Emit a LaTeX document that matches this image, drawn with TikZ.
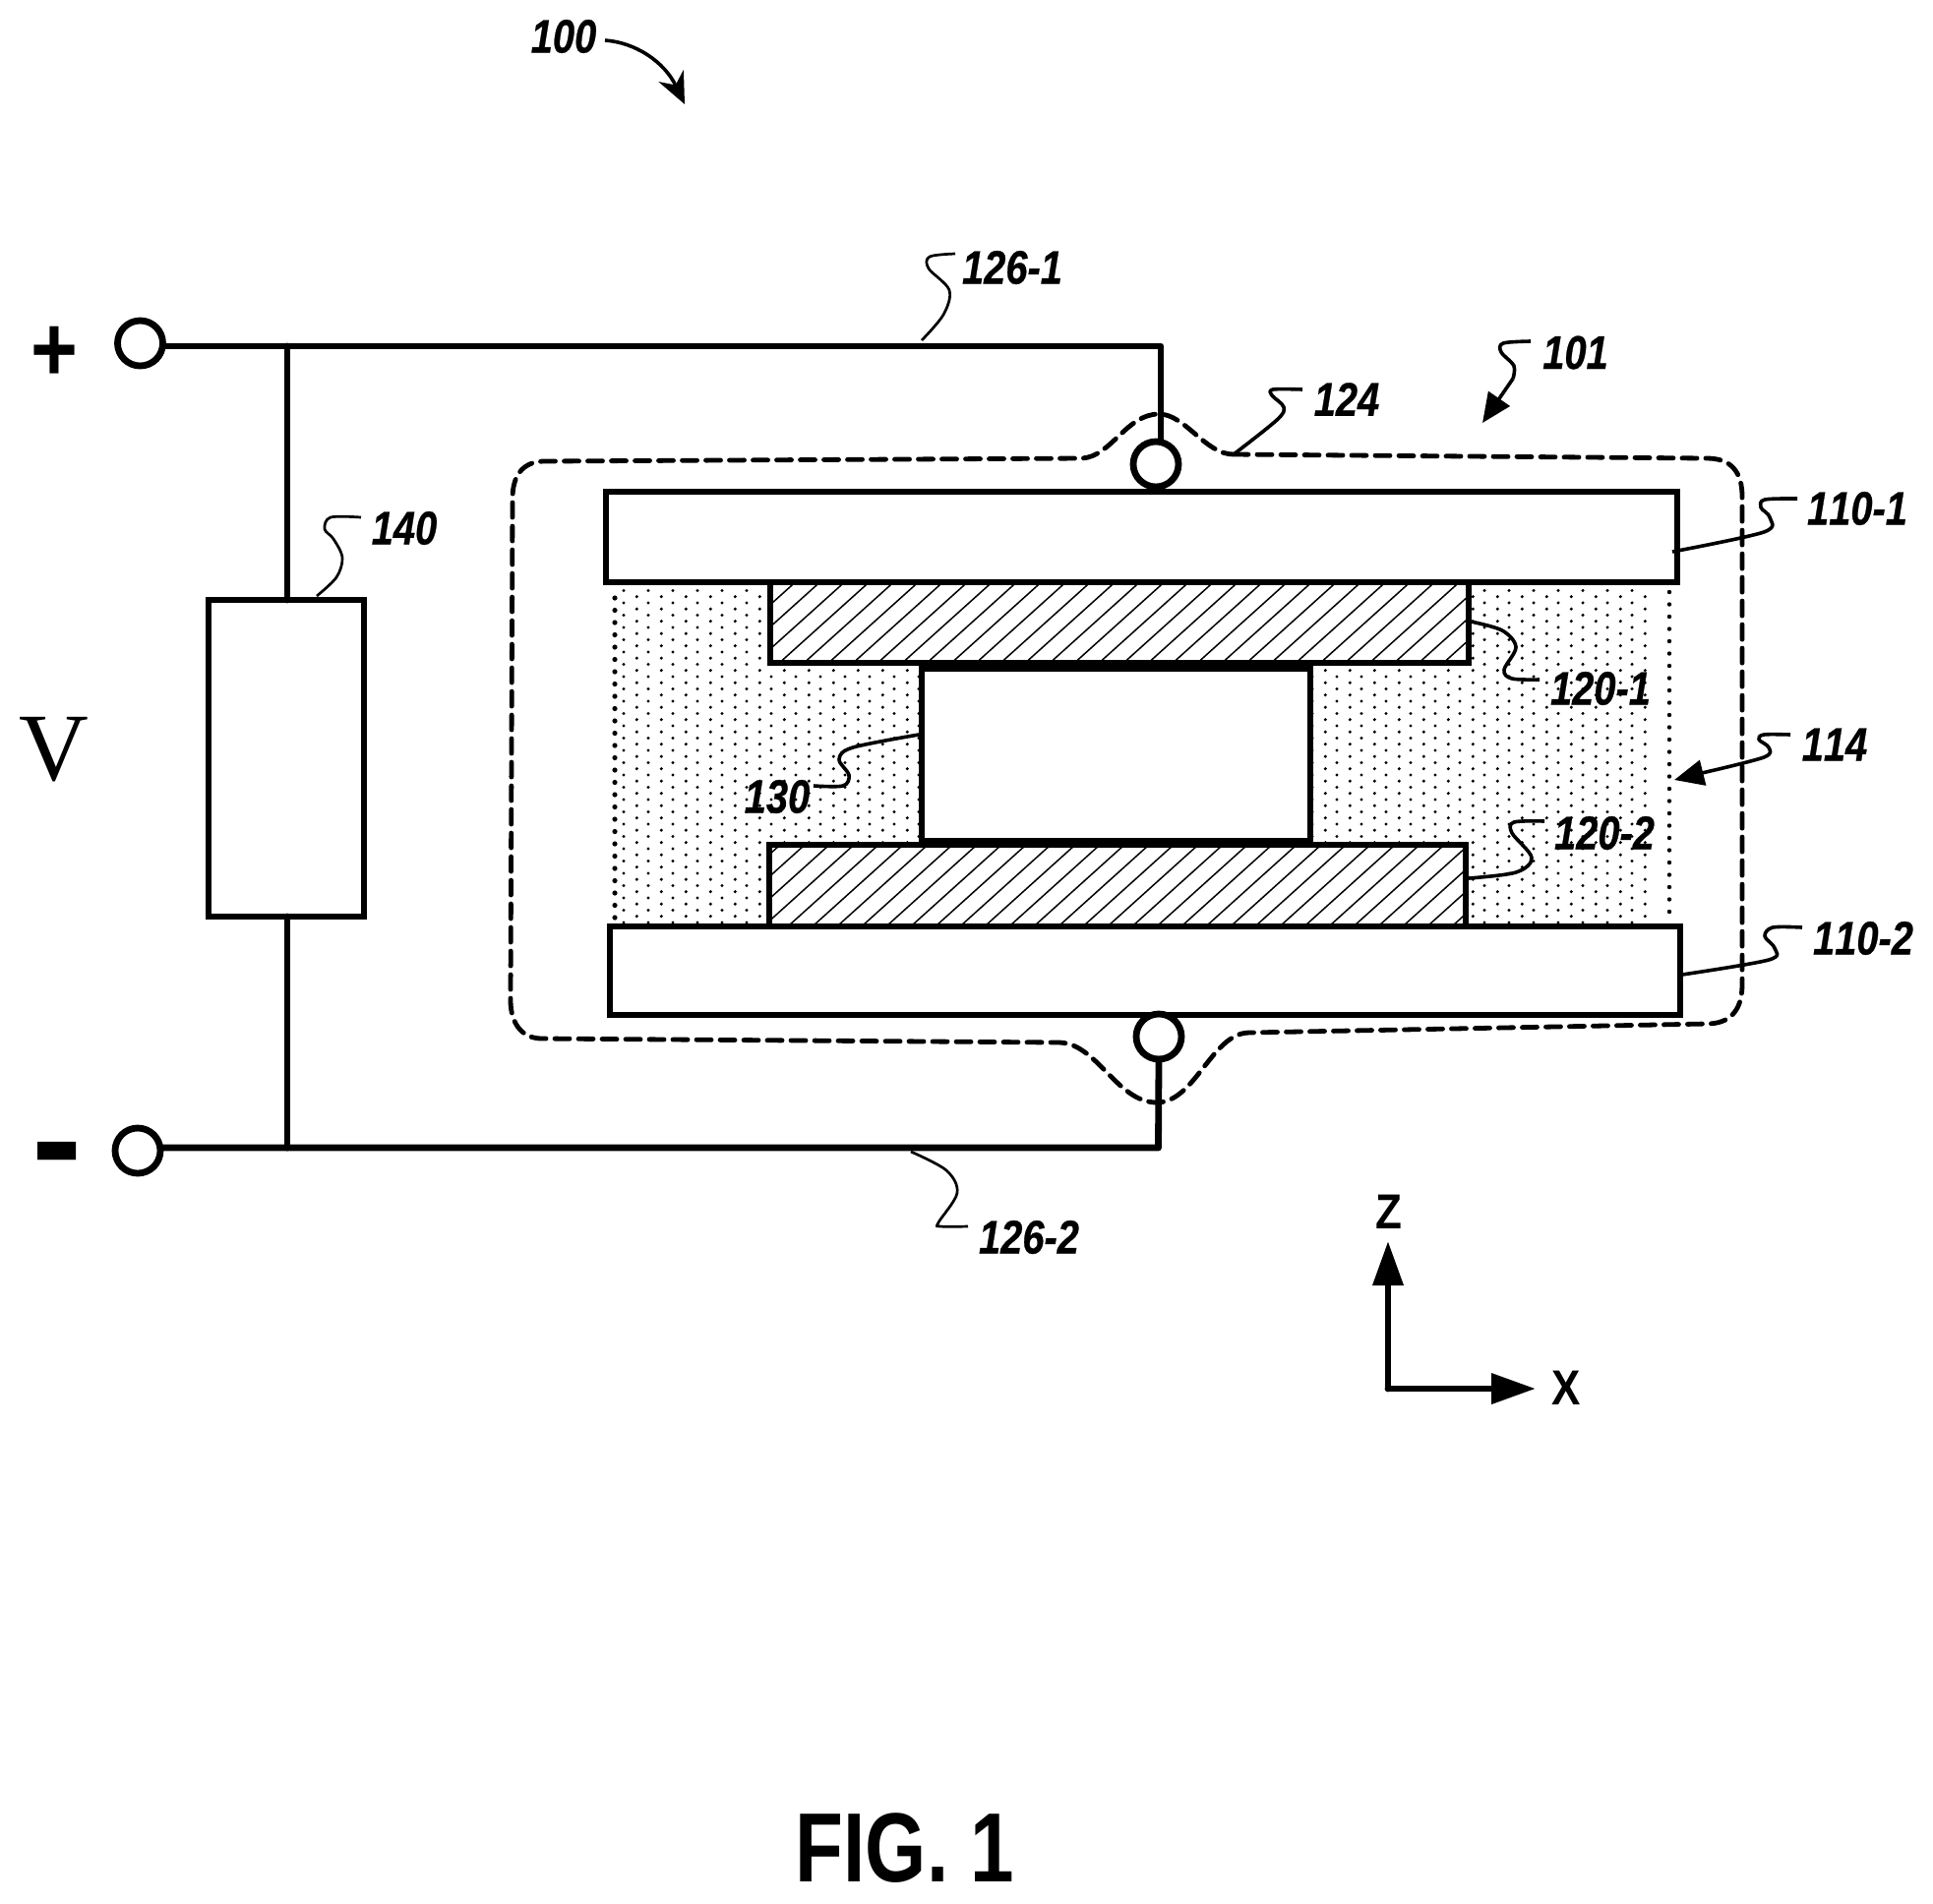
\documentclass[tikz,border=0pt]{standalone}
\usepackage{fontspec}
\setmainfont[RawFeature={-liga;-clig;-dlig}]{Liberation Sans}
\newfontfamily\vserif{Liberation Serif}
\usetikzlibrary{arrows.meta}
\newcommand{\lb}[1]{\scalebox{.83}[1]{\fontsize{24pt}{28pt}\selectfont\bfseries\itshape\addfontfeatures{FakeBold=0.6} #1}}
\newcommand{\axl}[1]{\scalebox{.88}[1]{\fontsize{25pt}{30pt}\selectfont\bfseries #1}}
\tikzset{
  wire/.style={line width=3.4pt,line cap=round,line join=round},
  lead/.style={line width=1.8pt,line join=round},
  thinlead/.style={line width=1.35pt,line join=round},
  box/.style={draw,line width=3.4pt,fill=white,inner sep=0pt,outer sep=0pt,rectangle},
  term/.style={draw,line width=3.4pt,fill=white,circle,inner sep=0pt,outer sep=0pt,minimum size=23pt},
  lbl/.style={inner sep=0pt,outer sep=0pt},
  hat/.style={line width=.75pt},
  bigtip/.style={-{Triangle[length=22.5pt,width=15pt]}},
  dashline/.style={line width=2.4pt,dash pattern=on 7.5pt off 4.5pt,line cap=round},
}
\begin{document}
\begin{tikzpicture}[x=0.5pt,y=-0.5pt]
\useasboundingbox (0,0) rectangle (1965,1935);
\fill[white] (0,0) rectangle (1965,1935);
% stipple
\foreach \i in {-1,...,53}{
  \pgfmathsetmacro\yy{606.7+6.25*\i}
  \pgfmathsetmacro\xo{ifthenelse(mod(\i+2,2)==0,647.3,634)}
  \foreach \k in {0,...,41}{\fill (\xo+25*\k,\yy) circle[radius=0.85pt];}
}
\foreach \i in {0,...,26}{
  \fill (625,608+12.5*\i) circle[radius=1.3pt];
  \fill (1697,602+12.5*\i) circle[radius=1.1pt];
}
% device
\node[box,minimum width=197.5pt,minimum height=87.5pt] (core) at (1134.5,767.5) {};
\node[box,minimum width=355pt,minimum height=41pt] (elA) at (1138,633) {};
\node[box,minimum width=354pt,minimum height=41.5pt] (elB) at (1136,900.5) {};
\begin{scope}
  \clip (elA.south west) rectangle (elA.north east);
  \foreach \k in {-5,...,30}{\draw[hat] (885.6+25*\k,590) -- (785.6+25*\k,680);}
\end{scope}
\begin{scope}
  \clip (elB.south west) rectangle (elB.north east);
  \foreach \k in {-5,...,30}{\draw[hat] (903+25*\k,850) -- (792+25*\k,950);}
\end{scope}
\draw[box,fill=none] (elA.south west) rectangle (elA.north east);
\draw[box,fill=none] (elB.south west) rectangle (elB.north east);
\node[box,minimum width=544.5pt,minimum height=46pt] (plA) at (1160.5,546) {};
\node[box,minimum width=544pt,minimum height=45pt] (plB) at (1164,987) {};
% enclosure
\draw[dashline] (1254,462) -- (1735,466) .. controls (1760,466) and (1771,480) .. (1771,505)
  -- (1771,1001) .. controls (1771,1028) and (1758,1041) .. (1735,1041)
  -- (1270,1050) .. controls (1232,1050) and (1215,1121) .. (1176,1121)
  .. controls (1135,1121) and (1115,1060) .. (1076,1060)
  -- (551,1056) .. controls (530,1056) and (519,1040) .. (519,1017)
  -- (521,507) .. controls (521,485) and (530,470) .. (552,469)
  -- (1100,466) .. controls (1130,464) and (1145,421) .. (1178,421)
  .. controls (1205,421) and (1225,462) .. (1254,462);
% terminals and circuit
\node[term] (tP) at (142.5,349) {};
\node[term] (tM) at (140,1170) {};
\node[term] (tU) at (1175,472) {};
\node[term] (tL) at (1178,1054) {};
\node[box,minimum width=79pt,minimum height=161pt] (res) at (291,771) {};
\coordinate (jU) at (292,352);
\coordinate (jL) at (292,1167);
\coordinate (cU) at (1180,352);
\coordinate (cL) at (1177.5,1167);
\draw[wire] (tP.east |- jU) -- (jU) -- (cU) -- (1180,447);
\draw[wire] (tM.east |- jL) -- (jL) -- (cL) -- (tL.south);
\draw[wire] (jU) -- (jU |- res.north);
\draw[wire] (jL) -- (jL |- res.south);
% axes
\coordinate (ax0) at (1411,1412);
\coordinate (axZ) at (1411,1262);
\coordinate (axX) at (1561,1412);
\draw[wire,bigtip] (ax0) -- (axZ);
\draw[wire,bigtip] (ax0) -- (axX);
% labels
\node[lbl] (n100) at (573,37) {\lb{100}};
\node[lbl] (n101) at (1601.5,358.5) {\lb{101}};
\node[lbl] (n124) at (1369,406) {\lb{124}};
\node[lbl] (n1261) at (1029,272) {\lb{126-1}};
\node[lbl] (n1262) at (1046,1258) {\lb{126-2}};
\node[lbl] (n140) at (411,537) {\lb{140}};
\node[lbl] (n130) at (790,810) {\lb{130}};
\node[lbl] (n1101) at (1888,517) {\lb{1\kern0pt 10-1}};
\node[lbl] (n1102) at (1894,954) {\lb{1\kern0pt 10-2}};
\node[lbl] (n114) at (1865,757) {\lb{1\kern0pt 14}};
\node[lbl] (n1201) at (1627,700) {\lb{120-1}};
\node[lbl] (n1202) at (1631,847) {\lb{120-2}};
\node[lbl] (nV) at (55,762) {\fontsize{49pt}{55pt}\selectfont\vserif V};
\node[lbl] (nP) at (55,360) {\scalebox{1}[1.15]{\fontsize{41pt}{46pt}\selectfont\bfseries +}};
\node[lbl] (nM) at (58,1186) {\fontsize{77pt}{80pt}\selectfont\bfseries -};
\node[lbl] (nZ) at (1412,1232) {\axl{Z}};
\node[lbl] (nX) at (1592,1411) {\axl{X}};
\node[lbl] (nF) at (920,1879) {\scalebox{.8}[1]{\fontsize{50pt}{56pt}\selectfont\bfseries FIG. 1}};
% leaders
\draw[wire,line width=1.8pt,line cap=butt,-{Stealth[length=16pt,width=14pt]}]
  (615,41) .. controls (645,43) and (675,62) .. (696,106);
\draw[lead] plot[smooth,tension=.55] coordinates {(1556,347) (1528,349) (1526,358) (1539,372) (1538,385)};
\draw[lead,-{Triangle[length=15pt,width=13pt]}] (1538,385) -- (1507,430);
\draw[lead] plot[smooth,tension=.55] coordinates {(1254,462) (1298,427) (1305,414) (1293,402) (1294,396) (1324,396)};
\draw[thinlead] plot[smooth,tension=.55] coordinates {(937,346) (959,320) (965,295) (944,273) (945,261) (971,258)};
\draw[thinlead] plot[smooth,tension=.55] coordinates {(926,1171) (962,1190) (973,1213) (954,1243) (956,1247) (984,1247)};
\draw[thinlead] plot[smooth,tension=.55] coordinates {(322,606) (342,587) (348,567) (339,548) (330,538) (336,526) (367,526)};
\draw[lead] plot[smooth,tension=.55] coordinates {(934,747) (867,760) (853,772) (863,788) (857,799) (827,799)};
\draw[lead] plot[smooth,tension=.55] coordinates {(1700,561) (1793,541) (1799,526) (1790,516) (1794,508) (1827,507)};
\draw[lead] plot[smooth,tension=.55] coordinates {(1710,991) (1798,976) (1804,964) (1794,952) (1802,943) (1832,943)};
\draw[lead] plot[smooth,tension=.55] coordinates {(1495,632) (1527,641) (1541,658) (1529,681) (1537,690) (1565,691)};
\draw[lead] plot[smooth,tension=.55] coordinates {(1493,893) (1541,887) (1557,872) (1537,847) (1539,836) (1570,835)};
\draw[lead] plot[smooth,tension=.55] coordinates {(1820,747) (1793,747) (1788,752) (1798,760) (1793,770) (1730,786)};
\draw[lead,-{Triangle[length=15pt,width=13pt]}] (1730,786) -- (1702,793);
\end{tikzpicture}
\end{document}
